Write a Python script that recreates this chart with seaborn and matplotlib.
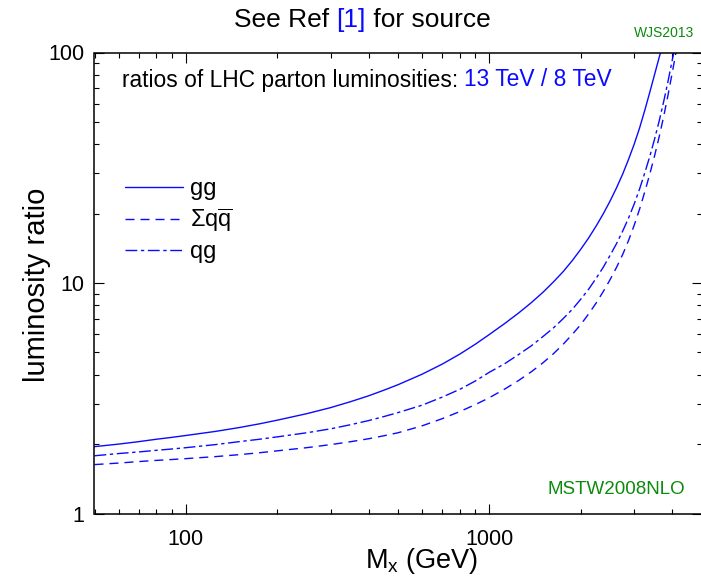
import matplotlib
matplotlib.use("Agg")
import matplotlib.pyplot as plt
import matplotlib.ticker as mticker
from matplotlib.offsetbox import TextArea, HPacker, AnnotationBbox
import pandas as pd
import seaborn as sns

# Parton luminosity ratios, 13 TeV over 8 TeV, versus invariant mass M_X (GeV)
mass_gg = [50, 60, 70, 80, 90, 100, 125, 150, 175, 200, 250, 300, 350, 400, 450,
           500, 600, 700, 800, 900, 1000, 1125, 1250, 1375, 1500, 1625, 1750, 1875,
           2000, 2125, 2250, 2375, 2500, 2625, 2750, 2875, 3000, 3125, 3250, 3375,
           3500, 3625, 3750]
ratio_gg = [1.95, 2.0, 2.05, 2.1, 2.14, 2.18, 2.27, 2.36, 2.45, 2.54, 2.71, 2.88,
            3.06, 3.24, 3.43, 3.62, 4.02, 4.45, 4.92, 5.43, 5.98, 6.68, 7.42, 8.22,
            9.1, 10.1, 11.2, 12.5, 14.0, 15.7, 17.7, 20.0, 22.7, 25.9, 29.7, 34.4,
            40.0, 47.0, 56.0, 67.0, 80.0, 95.0, 112.0]

mass_qq = [50, 60, 70, 80, 90, 100, 125, 150, 175, 200, 250, 300, 350, 400, 450,
           500, 600, 700, 800, 900, 1000, 1125, 1250, 1375, 1500, 1625, 1750, 1875,
           2000, 2125, 2250, 2375, 2500, 2625, 2750, 2875, 3000, 3125, 3250, 3375,
           3500, 3625, 3750, 3875, 4000, 4125, 4250]
ratio_qq = [1.63, 1.655, 1.68, 1.70, 1.715, 1.73, 1.765, 1.80, 1.835, 1.87, 1.93,
            1.99, 2.05, 2.11, 2.175, 2.24, 2.4, 2.58, 2.77, 2.97, 3.18, 3.47, 3.78,
            4.12, 4.5, 4.93, 5.42, 5.98, 6.6, 7.35, 8.2, 9.2, 10.35, 11.7, 13.3,
            15.3, 17.8, 20.9, 24.8, 29.6, 35.5, 43.0, 52.5, 65.0, 81.0, 101.0, 126.0]

mass_qg = [50, 60, 70, 80, 90, 100, 125, 150, 175, 200, 250, 300, 350, 400, 450,
           500, 600, 700, 800, 900, 1000, 1125, 1250, 1375, 1500, 1625, 1750, 1875,
           2000, 2125, 2250, 2375, 2500, 2625, 2750, 2875, 3000, 3125, 3250, 3375,
           3500, 3625, 3750, 3875, 4000, 4100, 4200]
ratio_qg = [1.78, 1.82, 1.85, 1.88, 1.905, 1.93, 1.99, 2.05, 2.10, 2.15, 2.24, 2.33,
            2.43, 2.53, 2.635, 2.74, 2.95, 3.2, 3.46, 3.76, 4.1, 4.47, 4.9, 5.34,
            5.85, 6.38, 7.0, 7.68, 8.5, 9.41, 10.5, 11.72, 13.2, 14.83, 16.8, 19.13,
            22.0, 25.55, 30.0, 35.3, 42.0, 50.3, 61.0, 74.5, 92.0, 107.0, 125.0]

channel_labels = ["gg", r"$\Sigma q\overline{q}$", "qg"]
x_tick_values = [100, 1000]
y_tick_values = [1, 10, 100]

BLUE = "#0a0aff"
GREEN = "#0b8a0b"

sns.set_theme(style="ticks")
plt.rcParams["font.family"] = ["Liberation Sans", "DejaVu Sans"]
plt.rcParams["mathtext.fontset"] = "custom"
plt.rcParams["mathtext.rm"] = "Liberation Sans"
plt.rcParams["mathtext.it"] = "Liberation Sans"
plt.rcParams["mathtext.bf"] = "Liberation Sans:bold"
plt.rcParams["mathtext.default"] = "rm"

fig = plt.figure(figsize=(7.01, 5.78), dpi=100)
W, H = 701.0, 578.0
left, right, top, bottom = 94.5, 701.5, 52.5, 513.5
ax = fig.add_axes([left / W, 1 - bottom / H, (right - left) / W, (bottom - top) / H])

frames = {
    "gg": pd.DataFrame({"M": mass_gg, "ratio": ratio_gg}),
    "qq": pd.DataFrame({"M": mass_qq, "ratio": ratio_qq}),
    "qg": pd.DataFrame({"M": mass_qg, "ratio": ratio_qg}),
}
styles = {
    "gg": "-",
    "qq": (0, (6.5, 4.3)),
    "qg": (0, (8.5, 2.6, 2.4, 2.6)),
}
for key, lab in zip(["gg", "qq", "qg"], channel_labels):
    sns.lineplot(data=frames[key], x="M", y="ratio", ax=ax, color=BLUE,
                 linewidth=1.0, linestyle=styles[key], label=lab)

ax.set_xscale("log")
ax.set_yscale("log")
ax.set_xlim(50, 5000)
ax.set_ylim(1, 100)

ax.xaxis.set_major_locator(mticker.FixedLocator(x_tick_values))
ax.xaxis.set_major_formatter(mticker.FixedFormatter([str(v) for v in x_tick_values]))
ax.xaxis.set_minor_locator(mticker.LogLocator(base=10, subs=range(2, 10)))
ax.xaxis.set_minor_formatter(mticker.NullFormatter())
ax.yaxis.set_major_locator(mticker.FixedLocator(y_tick_values))
ax.yaxis.set_major_formatter(mticker.FixedFormatter([str(v) for v in y_tick_values]))
ax.yaxis.set_minor_locator(mticker.LogLocator(base=10, subs=range(2, 10)))
ax.yaxis.set_minor_formatter(mticker.NullFormatter())

for s in ax.spines.values():
    s.set_visible(True)
    s.set_linewidth(1.1)
    s.set_color("black")
ax.tick_params(which="both", direction="in", top=True, right=True,
               color="black", width=0.8)
ax.tick_params(which="major", length=7, labelsize=15.5, labelcolor="black")
ax.tick_params(which="minor", length=3.8)
ax.tick_params(axis="x", which="major", pad=11)
ax.tick_params(axis="y", which="major", pad=7.5)

ax.set_xlabel("")
ax.set_ylabel("")
fig.text(422 / W, 1 - 561 / H, r"M$_{\mathrm{x}}$ (GeV)", fontsize=19.5,
         ha="center", va="center", color="black")
fig.text(37 / W, 1 - 285 / H, "luminosity ratio", fontsize=21, rotation=90,
         ha="center", va="center", color="black")

leg = ax.legend(loc="upper left", bbox_to_anchor=(0.05, 0.728), frameon=False,
                fontsize=17, handlelength=2.45, handletextpad=0.3,
                labelspacing=0.28, borderpad=0, borderaxespad=0)
for t in leg.get_texts():
    t.set_color("black")


def multicolor(x_px, y_px, parts, size, align):
    boxes = [TextArea(txt, textprops=dict(color=c, fontsize=size,
                                          family=["Liberation Sans", "DejaVu Sans"]))
             for txt, c in parts]
    pack = HPacker(children=boxes, align="baseline", pad=0, sep=0)
    ab = AnnotationBbox(pack, (x_px / W, 1 - y_px / H), xycoords="figure fraction",
                        box_alignment=align, frameon=False, pad=0)
    fig.add_artist(ab)


multicolor(362, 20, [("See Ref ", "black"), ("[1]", BLUE), (" for source", "black")],
           19, (0.5, 0.5))
multicolor(122, 80, [("ratios of LHC parton luminosities: ", "black"),
                     ("13 TeV / 8 TeV", BLUE)], 16.4, (0.0, 0.5))

fig.text(694 / W, 1 - 33 / H, "WJS2013", fontsize=10, color=GREEN,
         ha="right", va="center")
fig.text(685 / W, 1 - 490 / H, "MSTW2008NLO", fontsize=13.5, color=GREEN,
         ha="right", va="center")

fig.savefig("out.png", dpi=100)
